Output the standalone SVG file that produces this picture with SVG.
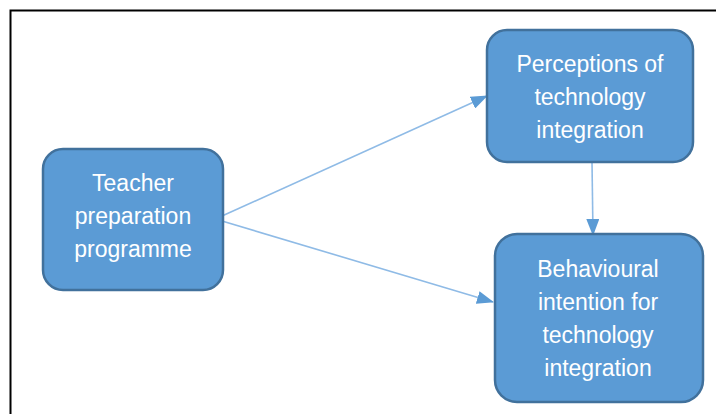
<svg xmlns="http://www.w3.org/2000/svg" width="716" height="414" viewBox="0 0 716 414">
<style>
.node{fill:#5b9bd5;stroke:#41719c;stroke-width:2.5}
.lbl{font-family:"Liberation Sans",Arial,sans-serif;font-size:23px;fill:#ffffff;text-anchor:middle}
.edge{stroke:#8fbbe6;stroke-width:1.6;fill:none}
</style>
<defs>
<marker id="arr" markerWidth="17" markerHeight="13" refX="16" refY="6.5" orient="auto" markerUnits="userSpaceOnUse">
<path d="M0,0 L17,6.5 L0,13 Z" fill="#5b9bd5"/>
</marker>
</defs>
<rect width="716" height="414" fill="#ffffff"/>
<path d="M10.5,414 L10.5,10.5 L716,10.5" fill="none" stroke="#000000" stroke-width="2"/>
<g id="connectors">
<line class="edge" x1="222" y1="216" x2="487" y2="96" marker-end="url(#arr)"/>
<line class="edge" x1="222" y1="221" x2="493" y2="302" marker-end="url(#arr)"/>
<line class="edge" x1="592" y1="162" x2="593" y2="235" marker-end="url(#arr)"/>
</g>
<g id="teacher">
<rect class="node" x="43" y="149" width="180" height="141" rx="20"/>
<text class="lbl" x="133" y="191">Teacher</text>
<text class="lbl" x="133" y="224">preparation</text>
<text class="lbl" x="133" y="257">programme</text>
</g>
<g id="perceptions">
<rect class="node" x="487" y="30" width="206" height="132" rx="20"/>
<text class="lbl" x="590" y="72">Perceptions of</text>
<text class="lbl" x="590" y="105">technology</text>
<text class="lbl" x="590" y="138">integration</text>
</g>
<g id="behavioural">
<rect class="node" x="495" y="234" width="208" height="168" rx="22"/>
<text class="lbl" x="598" y="277">Behavioural</text>
<text class="lbl" x="598" y="310">intention for</text>
<text class="lbl" x="598" y="343">technology</text>
<text class="lbl" x="598" y="376">integration</text>
</g>
</svg>
